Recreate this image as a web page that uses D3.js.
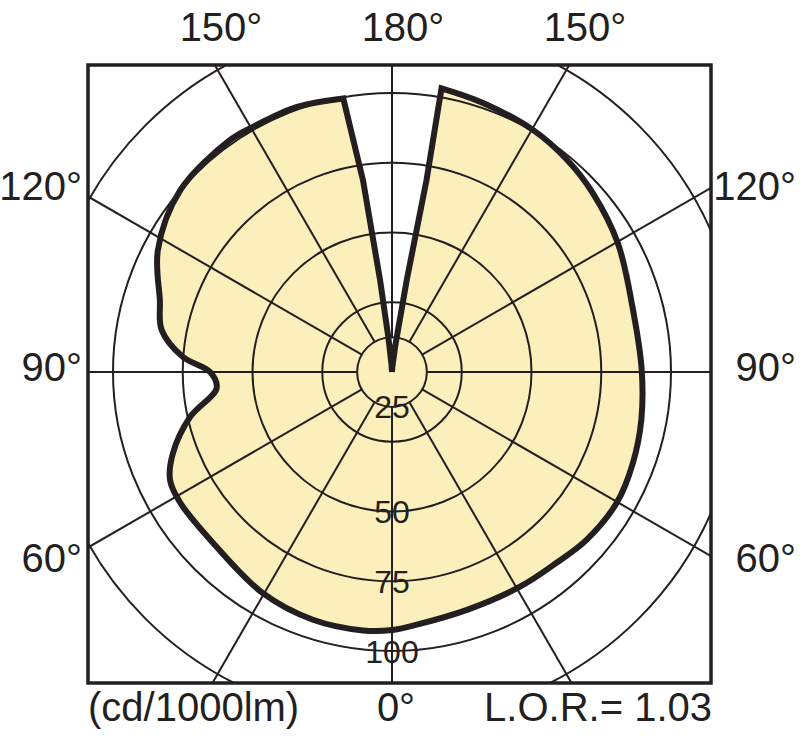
<!DOCTYPE html>
<html>
<head>
<meta charset="utf-8">
<script src="https://cdn.jsdelivr.net/npm/d3@7"></script>
<style>
  body { margin: 0; background: #fff; }
  svg { display: block; }
  text { font-family: "Liberation Sans", Arial, sans-serif; fill: #231f20; }
</style>
</head>
<body>
<svg width="800" height="736"></svg>
<script>
// left half of the curve (angle from nadir, value in cd/1000lm)
var leftAngles = [180, 176, 174, 172.6, 171.4, 169.9, 160.3, 150.4, 145.1, 130.6, 117.5, 107.2, 100.3, 94.1, 90, 84.8, 77.4, 69.7, 64, 58.3, 46.3, 30.3, 17.7, 6.4, 0];
var leftValues = [0, 2.9, 12.5, 33.3, 69.5, 99.6, 100.9, 101.0, 101.4, 100.0, 94.6, 87.1, 83.9, 75.1, 65.2, 63.1, 74.2, 83.7, 88.5, 89.2, 88.7, 91.8, 93.2, 93.2, 92.5];
// right half
var rightAngles = [5.6, 17.5, 30.8, 40.8, 49.3, 59.8, 69.3, 79.1, 90.5, 104.4, 119.7, 131.7, 140.5, 149.8, 161.3, 170.1, 169.8, 170.9, 173, 176, 180];
var rightValues = [91.0, 89.4, 89.6, 90.3, 92.1, 93.2, 92.3, 91.0, 89.5, 89.2, 93.2, 96.4, 98.6, 100.4, 101.8, 103.2, 69.9, 33.3, 9, 1.8, 0];

var ringValues = [12.5, 25, 50, 75, 100, 125];
var ringLabels = ["25", "", "50", "75", "100", ""];
var spokeAngles = d3.range(0, 360, 30);

var topLabels = ["150°", "180°", "150°"];
var sideLabels = ["120°", "90°", "60°"];

var cx = 392, cy = 372;
var box = { x0: 88, y0: 65, x1: 711, y1: 683 };
var ink = "#231f20";
var cream = "#fbefbb";

var svg = d3.select("svg");

var r = d3.scaleLinear().domain([0, 100]).range([0, 279]);
var rad = Math.PI / 180;

// d3 radial angle: 0 = up, clockwise. nadir angle t -> left side PI + t, right side PI - t
var leftPts = leftAngles.map((a, i) => ({ a: Math.PI + a * rad, v: leftValues[i] }));
var rightPts = rightAngles.map((a, i) => ({ a: Math.PI - a * rad, v: rightValues[i] }));

// the narrow cut-off around 180 is drawn straight, the rest smooth
var leftCorner = 5;   // 169.9
var rightCorner = 15; // 170.1
var vLeft = leftPts.slice(0, leftCorner + 1);
var body = leftPts.slice(leftCorner).concat(rightPts.slice(0, rightCorner + 1));
var vRight = rightPts.slice(rightCorner);

var straight = d3.lineRadial()
    .angle(d => d.a)
    .radius(d => r(d.v))
    .curve(d3.curveLinear);
var smooth = d3.lineRadial()
    .angle(d => d.a)
    .radius(d => r(d.v))
    .curve(d3.curveCatmullRom.alpha(0.5));
var outline = straight(vLeft)
    + smooth(body).replace(/^M/, "L")
    + straight(vRight).replace(/^M/, "L");

svg.append("defs").append("clipPath")
    .attr("id", "boxclip")
  .append("rect")
    .attr("x", box.x0)
    .attr("y", box.y0)
    .attr("width", box.x1 - box.x0)
    .attr("height", box.y1 - box.y0);

var g = svg.append("g")
    .attr("transform", "translate(" + cx + "," + cy + ")");

g.append("path")
    .attr("d", outline + "Z")
    .attr("fill", cream);

var grid = svg.append("g")
    .attr("clip-path", "url(#boxclip)")
  .append("g")
    .attr("transform", "translate(" + cx + "," + cy + ")");

grid.selectAll(".ring")
  .data(ringValues)
  .enter()
  .append("circle")
    .attr("r", d => r(d))
    .attr("fill", "none")
    .attr("stroke", ink)
    .attr("stroke-width", 2);

grid.selectAll(".spoke")
  .data(spokeAngles)
  .enter()
  .append("line")
    .attr("x1", d => r(ringValues[0]) * Math.sin(d * rad))
    .attr("y1", d => r(ringValues[0]) * Math.cos(d * rad))
    .attr("x2", d => 500 * Math.sin(d * rad))
    .attr("y2", d => 500 * Math.cos(d * rad))
    .attr("stroke", ink)
    .attr("stroke-width", 2);

g.append("path")
    .attr("d", outline)
    .attr("fill", "none")
    .attr("stroke", ink)
    .attr("stroke-width", 6)
    .attr("stroke-linejoin", "miter")
    .attr("stroke-miterlimit", 6);

// ring labels with knock-out background
var curveAtNadir = leftValues[leftValues.length - 1];
var labelData = ringValues.map((v, i) => ({ v: v, t: ringLabels[i] })).filter(d => d.t !== "");
var labs = g.selectAll(".ringlab")
  .data(labelData)
  .enter()
  .append("g")
    .attr("transform", d => "translate(0," + r(d.v) + ")");

labs.append("rect");
labs.append("text")
    .attr("text-anchor", "middle")
    .attr("dy", "0.36em")
    .style("font-size", "32px")
    .text(d => d.t);

labs.each(function(d) {
  var bb = d3.select(this).select("text").node().getBBox();
  d3.select(this).select("rect")
    .attr("x", bb.x - 1)
    .attr("y", -16)
    .attr("width", bb.width + 2)
    .attr("height", 33)
    .attr("fill", d.v < curveAtNadir ? cream : "#fff");
});

svg.append("rect")
    .attr("x", box.x0)
    .attr("y", box.y0)
    .attr("width", box.x1 - box.x0)
    .attr("height", box.y1 - box.y0)
    .attr("fill", "none")
    .attr("stroke", ink)
    .attr("stroke-width", 3.5);

// angle labels around the frame
var topX = [221, 403, 585];
svg.selectAll(".toplab")
  .data(topLabels)
  .enter()
  .append("text")
    .attr("x", (d, i) => topX[i])
    .attr("y", 41)
    .attr("text-anchor", "middle")
    .style("font-size", "40px")
    .text(d => d);

var sideY = [200, 381, 572];
svg.selectAll(".leftlab")
  .data(sideLabels)
  .enter()
  .append("text")
    .attr("x", 82)
    .attr("y", (d, i) => sideY[i])
    .attr("text-anchor", "end")
    .style("font-size", "40px")
    .text(d => d);

svg.selectAll(".rightlab")
  .data(sideLabels)
  .enter()
  .append("text")
    .attr("x", 796)
    .attr("y", (d, i) => sideY[i])
    .attr("text-anchor", "end")
    .style("font-size", "40px")
    .text(d => d);

svg.append("text")
    .attr("x", box.x0)
    .attr("y", 721)
    .style("font-size", "40px")
    .text("(cd/1000lm)");

svg.append("text")
    .attr("x", 396)
    .attr("y", 721)
    .attr("text-anchor", "middle")
    .style("font-size", "40px")
    .text("0°");

svg.append("text")
    .attr("x", box.x1 + 1)
    .attr("y", 721)
    .attr("text-anchor", "end")
    .style("font-size", "40px")
    .text("L.O.R.= 1.03");
</script>
</body>
</html>
